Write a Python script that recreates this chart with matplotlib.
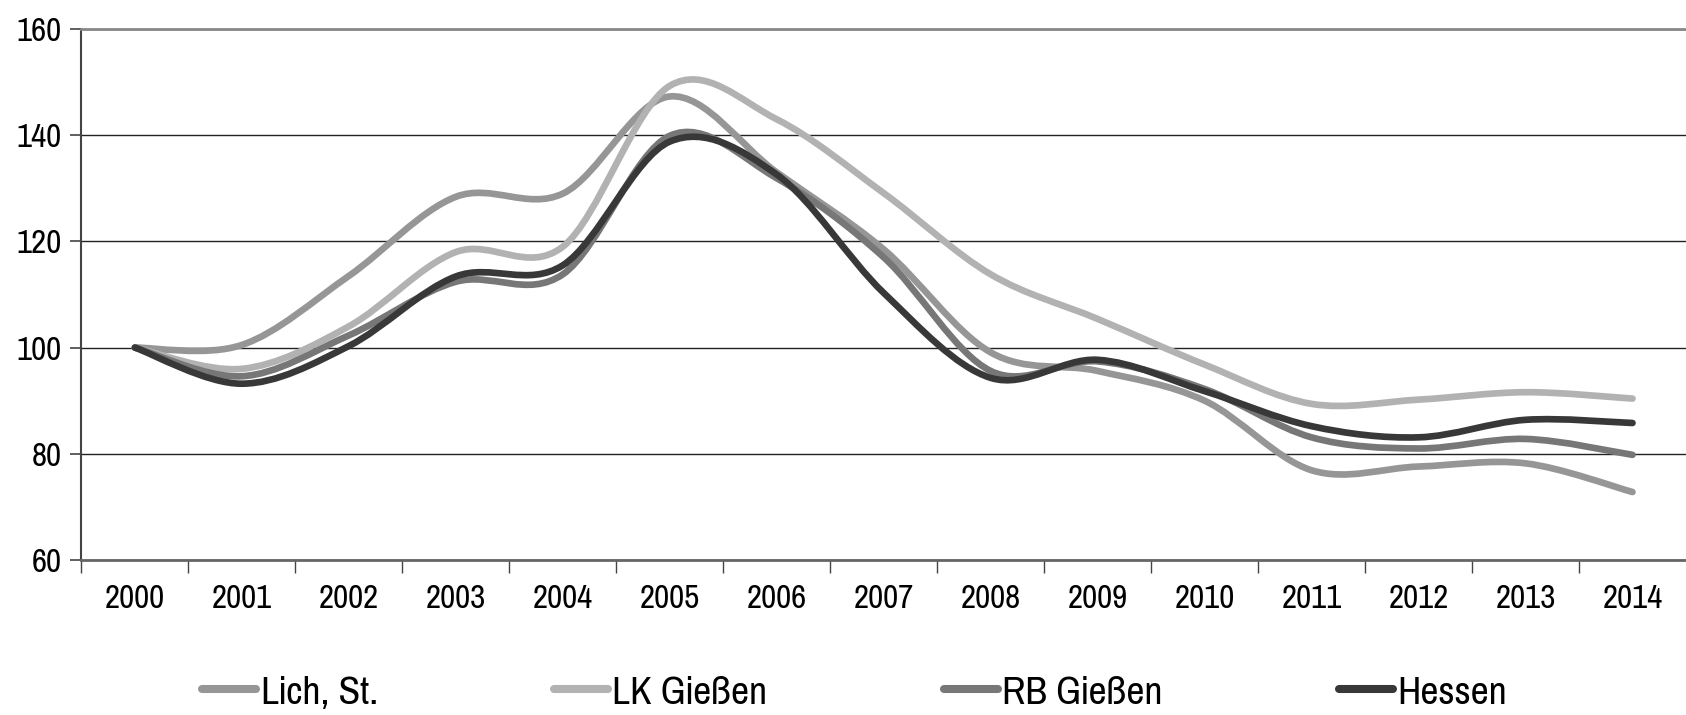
import matplotlib
matplotlib.use('Agg')
import matplotlib.pyplot as plt
from matplotlib.path import Path
from matplotlib.patches import PathPatch
from matplotlib.lines import Line2D
from matplotlib import font_manager

# narrow font like Arial Narrow, first one that exists
names = {f.name for f in font_manager.fontManager.ttflist}
wanted = ['Liberation Sans Narrow', 'Arial Narrow', 'Pragati Narrow', 'Archivo Narrow', 'Liberation Sans']
font = next(n for n in wanted if n in names)
plt.rcParams['font.family'] = [font, 'DejaVu Sans']

years = ['2000', '2001', '2002', '2003', '2004', '2005', '2006', '2007',
         '2008', '2009', '2010', '2011', '2012', '2013', '2014']

lich = [100, 100.5, 113.5, 128.4, 129, 147.3, 133, 118.5, 99.1, 95.6, 90, 76.9, 77.6, 78.2, 72.8]
lk_giessen = [100, 96, 104, 118, 119, 149.3, 143, 129.1, 113.8, 105.4, 96.8, 89.4, 90.2, 91.6, 90.4]
rb_giessen = [100, 94.6, 102.3, 112.4, 113.8, 139.9, 131.9, 117, 95.6, 97.4, 92.2, 83.1, 81.0, 82.8, 79.8]
hessen = [100, 93.2, 100.3, 113.4, 115.5, 138.8, 132.6, 110.3, 94.3, 97.7, 91.8, 85.2, 83.1, 86.4, 85.8]

series = [
    ('Lich, St.', lich, '#969696'),
    ('LK Gießen', lk_giessen, '#b2b2b2'),
    ('RB Gießen', rb_giessen, '#777777'),
    ('Hessen', hessen, '#383838'),
]


def smooth_path(ys):
    # Excel-style smoothed line as cubic bezier segments
    pts = list(zip(range(len(ys)), ys))
    verts = [pts[0]]
    codes = [Path.MOVETO]
    n = len(pts)
    for i in range(n - 1):
        p0 = pts[i - 1] if i > 0 else pts[i]
        p1 = pts[i]
        p2 = pts[i + 1]
        p3 = pts[i + 2] if i + 2 < n else pts[i + 1]
        c1 = (p1[0] + (p2[0] - p0[0]) / 6, p1[1] + (p2[1] - p0[1]) / 6)
        c2 = (p2[0] - (p3[0] - p1[0]) / 6, p2[1] - (p3[1] - p1[1]) / 6)
        verts += [c1, c2, p2]
        codes += [Path.CURVE4] * 3
    return Path(verts, codes)


fig = plt.figure(figsize=(16.86, 7.15), dpi=100)
ax = fig.add_axes([0.0483, 0.2168, 0.9517, 0.7426])

for label, vals, color in series:
    patch = PathPatch(smooth_path(vals), facecolor='none', edgecolor=color,
                      lw=4.8, capstyle='round', joinstyle='round', zorder=3)
    ax.add_patch(patch)

ax.set_xlim(-0.5, len(years) - 0.5)
ax.set_ylim(60, 160)
ax.set_yticks([60, 80, 100, 120, 140, 160])
ax.set_xticks(range(len(years)))
ax.set_xticklabels(years)
ax.set_xticks([i + 0.5 for i in range(-1, len(years) - 1)], minor=True)
ax.tick_params(axis='x', which='major', length=0, pad=17, labelsize=26)
ax.tick_params(axis='x', which='minor', length=9, width=1, color='#444444', direction='out')
ax.tick_params(axis='y', length=8, width=1.2, color='#444444', labelsize=26, pad=6)
ax.grid(axis='y', color='#222222', lw=1)
ax.set_axisbelow(True)
ax.spines['right'].set_visible(False)
ax.spines['top'].set_color('#888888')
ax.spines['top'].set_linewidth(2)
ax.spines['left'].set_color('#444444')
ax.spines['bottom'].set_color('#666666')
ax.spines['left'].set_linewidth(1.5)
ax.spines['bottom'].set_linewidth(2)

handles = [Line2D([], [], color=c, lw=5.8, solid_capstyle='round') for _, _, c in series]
fig.legend(handles, [s[0] for s in series], loc='center', bbox_to_anchor=(0.507, 0.032),
           ncol=4, frameon=False, fontsize=31, handlelength=1.25, handletextpad=0.1,
           columnspacing=4.1, borderpad=0)

fig.savefig('out.png', dpi=100)
